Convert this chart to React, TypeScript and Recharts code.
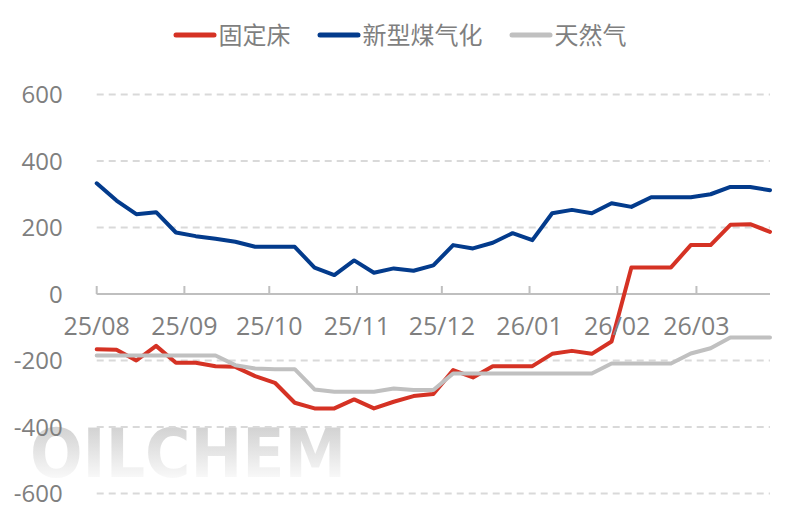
import { CartesianGrid, Legend, Line, LineChart, ReferenceLine, XAxis, YAxis } from "recharts";

// weekly observations (Fridays)
const WEEKS = [
  "2025-08-01", "2025-08-08", "2025-08-15", "2025-08-22", "2025-08-29",
  "2025-09-05", "2025-09-12", "2025-09-19", "2025-09-26",
  "2025-10-03", "2025-10-10", "2025-10-17", "2025-10-24", "2025-10-31",
  "2025-11-07", "2025-11-14", "2025-11-21", "2025-11-28",
  "2025-12-05", "2025-12-12", "2025-12-19", "2025-12-26",
  "2026-01-02", "2026-01-09", "2026-01-16", "2026-01-23", "2026-01-30",
  "2026-02-06", "2026-02-13", "2026-02-20", "2026-02-27",
  "2026-03-06", "2026-03-13", "2026-03-20", "2026-03-27",
];

const FIXED_BED = [
  -166, -168, -200, -156, -207, -207, -217, -219, -247, -267,
  -327, -344, -344, -317, -344, -324, -307, -301, -229, -251,
  -217, -217, -217, -180, -171, -180, -143, 80, 80, 80,
  147, 147, 208, 210, 187,
];

const NEW_COAL_GAS = [
  333, 281, 240, 246, 185, 174, 166, 157, 142, 142,
  142, 79, 57, 101, 64, 77, 70, 86, 147, 137,
  154, 183, 162, 243, 253, 243, 273, 262, 291, 291,
  291, 300, 322, 322, 312,
];

const NATURAL_GAS = [
  -185, -185, -185, -185, -185, -185, -185, -214, -224, -226,
  -226, -287, -294, -294, -294, -284, -289, -289, -239, -239,
  -239, -239, -239, -239, -239, -239, -209, -209, -209, -209,
  -179, -163, -131, -131, -131,
];

const MONTH_TICKS = [
  "2025-08-01", "2025-09-01", "2025-10-01", "2025-11-01",
  "2025-12-01", "2026-01-01", "2026-02-01", "2026-03-01",
];
const MONTH_LABELS = ["25/08", "25/09", "25/10", "25/11", "25/12", "26/01", "26/02", "26/03"];
const Y_TICKS = [-600, -400, -200, 0, 200, 400, 600];

const SERIES = [
  { key: "fixed", name: "固定床", color: "#d53224", values: FIXED_BED },
  { key: "coal", name: "新型煤气化", color: "#033b8c", values: NEW_COAL_GAS },
  { key: "gas", name: "天然气", color: "#c0c0c0", values: NATURAL_GAS },
];

const W = 799;
const H = 526;
const MARGIN = { top: 10, right: 29, bottom: 2.5, left: 0 };
const LEGEND_H = 84.5;
const X_AXIS_H = 30;
const PLOT_TOP = MARGIN.top + LEGEND_H;
const PLOT_BOTTOM = H - MARGIN.bottom - X_AXIS_H;
const ZERO_Y = (PLOT_TOP + PLOT_BOTTOM) / 2; // domain is symmetric

const FONT = "'Open Sans', 'Noto Sans CJK SC', sans-serif";
const TEXT = "#7f7f7f";

const toTime = (s: string) => Date.parse(s + "T00:00:00Z");
const tickTimes = MONTH_TICKS.map(toTime);

const data = WEEKS.map((w, i) => {
  const row: Record<string, number> = { t: toTime(w) };
  SERIES.forEach((s) => (row[s.key] = s.values[i]));
  return row;
});

function MonthTick({ x, payload }: any) {
  const label = MONTH_LABELS[tickTimes.indexOf(payload.value)];
  return (
    <g>
      <line x1={x} x2={x} y1={ZERO_Y - 8} y2={ZERO_Y} stroke="#bfbfbf" strokeWidth={2} />
      <text x={x} y={ZERO_Y + 41} textAnchor="middle" fill={TEXT} fontSize={25} fontFamily={FONT}>
        {label}
      </text>
    </g>
  );
}

function LegendContent() {
  return (
    <div
      style={{
        height: LEGEND_H,
        boxSizing: "border-box",
        paddingTop: 10,
        display: "flex",
        justifyContent: "center",
        alignItems: "flex-start",
        gap: 26,
      }}
    >
      {SERIES.map((s) => (
        <div key={s.key} style={{ display: "flex", alignItems: "center", height: 30 }}>
          <svg width={44} height={10} style={{ display: "block" }}>
            <line x1={3} x2={41} y1={5} y2={5} stroke={s.color} strokeWidth={5} strokeLinecap="round" />
          </svg>
          <span style={{ marginLeft: 2, fontSize: 24, lineHeight: "30px", color: TEXT, fontFamily: FONT }}>
            {s.name}
          </span>
        </div>
      ))}
    </div>
  );
}

export default function App() {
  return (
    <div style={{ position: "absolute", left: 0, top: 0, width: W, height: H, background: "#fff" }}>
      <div
        style={{
          position: "absolute",
          left: 30,
          top: 420,
          fontFamily: "'DejaVu Sans', sans-serif",
          fontWeight: 700,
          fontSize: 68,
          lineHeight: 1,
          transform: "scaleX(0.91)",
          transformOrigin: "left top",
          background: "linear-gradient(to bottom, #d3d3d3 12%, #fbfbfb 90%)",
          WebkitBackgroundClip: "text",
          backgroundClip: "text",
          color: "transparent",
          whiteSpace: "nowrap",
        }}
      >
        OILCHEM
      </div>
      <div style={{ position: "absolute", left: 0, top: 0 }}>
        <LineChart width={W} height={H} data={data} margin={MARGIN}>
          <CartesianGrid vertical={false} stroke="#d9d9d9" strokeWidth={2} strokeDasharray="7 5" />
          <Legend
            verticalAlign="top"
            content={<LegendContent />}
            wrapperStyle={{ left: 0, width: W, top: MARGIN.top }}
          />
          <XAxis
            dataKey="t"
            type="number"
            scale="time"
            domain={["dataMin", "dataMax"]}
            ticks={tickTimes}
            height={X_AXIS_H}
            axisLine={false}
            tickLine={false}
            tick={<MonthTick />}
            interval={0}
          />
          <YAxis
            domain={[-600, 600]}
            ticks={Y_TICKS}
            width={96.7}
            axisLine={false}
            tickLine={false}
            tickSize={0}
            tickMargin={34}
            tick={{ fill: TEXT, fontSize: 24, fontFamily: FONT }}
          />
          <ReferenceLine y={0} stroke="#bfbfbf" strokeWidth={2} />
          {SERIES.map((s) => (
            <Line
              key={s.key}
              dataKey={s.key}
              name={s.name}
              stroke={s.color}
              strokeWidth={4}
              strokeLinecap="round"
              strokeLinejoin="round"
              dot={false}
              activeDot={false}
              isAnimationActive={false}
            />
          ))}
        </LineChart>
      </div>
    </div>
  );
}
